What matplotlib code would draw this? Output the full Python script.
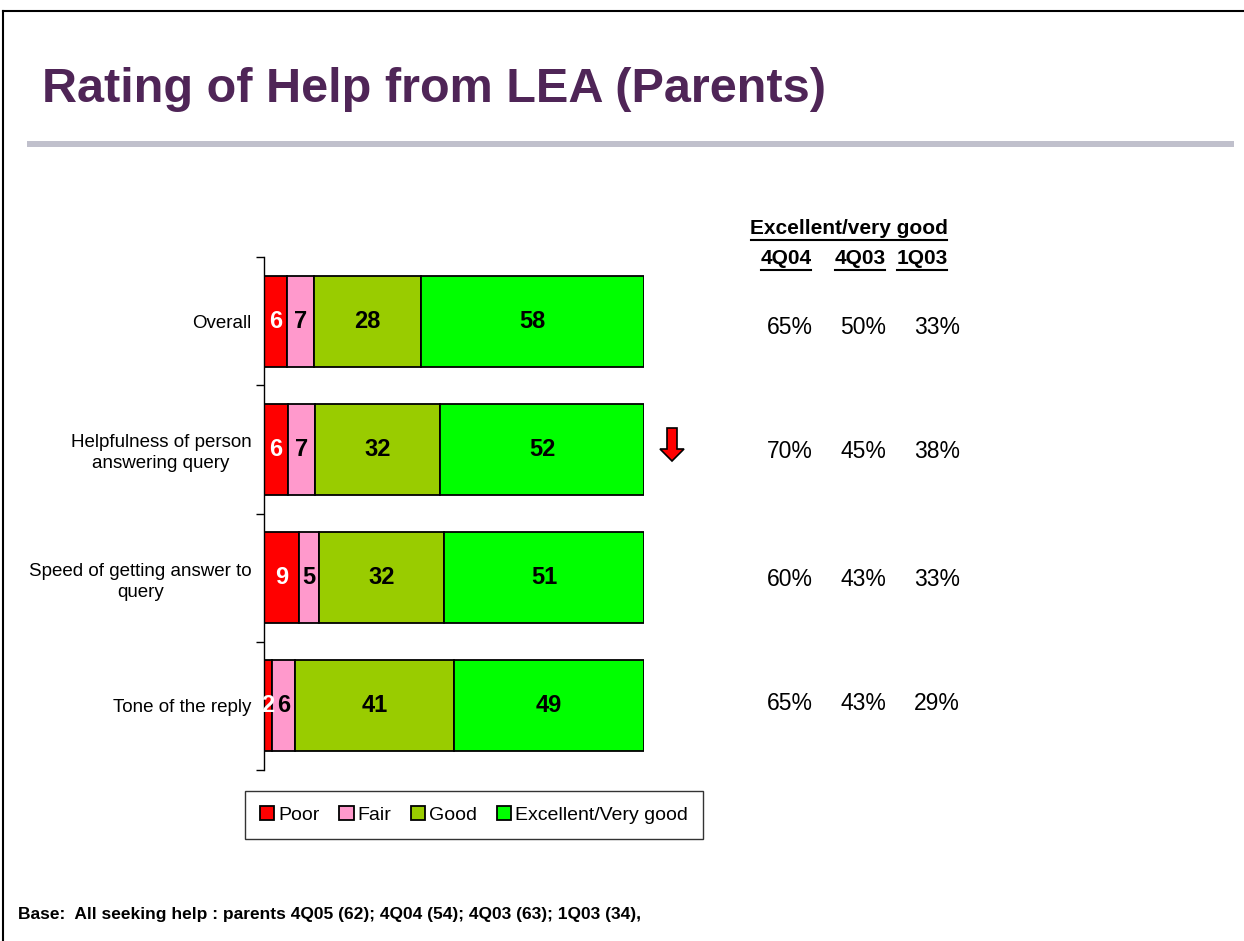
import matplotlib
matplotlib.use("Agg")
import matplotlib.pyplot as plt
import numpy as np
from matplotlib.lines import Line2D
from matplotlib.patches import FancyArrow, Rectangle

plt.rcParams['font.family'] = ['Liberation Sans', 'DejaVu Sans']

categories = ["Overall", "Helpfulness of person\nanswering query",
              "Speed of getting answer to\nquery", "Tone of the reply"]
series_names = ["Poor", "Fair", "Good", "Excellent/Very good"]
poor = [6, 6, 9, 2]
fair = [7, 7, 5, 6]
good = [28, 32, 32, 41]
excellent = [58, 52, 51, 49]
colors = ["#FF0000", "#FF99CC", "#99CC00", "#00FF00"]
label_colors = ["white", "black", "black", "black"]

periods = ["4Q04", "4Q03", "1Q03"]
prev_4q04 = ["65%", "70%", "60%", "65%"]
prev_4q03 = ["50%", "45%", "43%", "43%"]
prev_1q03 = ["33%", "38%", "33%", "29%"]

W, H = 1244, 941
fig = plt.figure(figsize=(W / 100, H / 100), dpi=100)

def fx(px):
    return px / W

def fy(py):
    return 1 - py / H

# Border and title
fig.add_artist(Line2D([fx(3), fx(1244)], [fy(11), fy(11)], color="black", lw=1.5))
fig.add_artist(Line2D([fx(3), fx(3)], [fy(11), fy(941)], color="black", lw=1.5))
fig.text(fx(42), fy(90), "Rating of Help from LEA (Parents)", fontsize=35,
         fontweight="bold", color="#4F2557", va="center", ha="left")
fig.add_artist(Rectangle((fx(27), fy(147)), fx(1234) - fx(27), fy(141) - fy(147),
                         transform=fig.transFigure, color="#C0C0CC", lw=0))

# Axes
ax = fig.add_axes([fx(264), fy(770), fx(644) - fx(264), fy(257) - fy(770)])
data = np.array([poor, fair, good, excellent], dtype=float)
totals = data.sum(axis=0)
shares = data / totals * 100
y = np.arange(len(categories))
left = np.zeros(len(categories))
for i, name in enumerate(series_names):
    ax.barh(y, shares[i], left=left, height=0.71, color=colors[i],
            edgecolor="black", linewidth=1.3, label=name)
    for j in range(len(categories)):
        ax.text(left[j] + shares[i][j] / 2, y[j], str(int(data[i][j])),
                ha="center", va="center", fontsize=17, fontweight="bold",
                color=label_colors[i])
    left += shares[i]

ax.set_xlim(0, 100)
ax.set_ylim(len(categories) - 0.5, -0.5)
ax.set_yticks(np.arange(-0.5, len(categories), 1.0))
ax.set_yticklabels([])
ax.set_yticks(y, minor=True)
ax.set_yticklabels(categories, minor=True, fontsize=13.5, ha="right",
                   multialignment="center", linespacing=1.3)
ax.tick_params(axis="y", which="minor", length=0, pad=9)
ax.tick_params(axis="y", which="major", length=6, direction="out", width=1)
ax.set_xticks([])
for s in ["top", "right", "bottom"]:
    ax.spines[s].set_visible(False)
ax.spines["left"].set_linewidth(1)
ax.patch.set_alpha(0)

# Legend
leg = fig.legend(loc="center", bbox_to_anchor=(fx(474), fy(815)), ncol=4,
                 fontsize=14, frameon=True, fancybox=False, edgecolor="black",
                 handlelength=0.75, handleheight=0.75, handletextpad=0.2,
                 columnspacing=1.0, borderpad=0.75)
leg.get_frame().set_linewidth(1)

# Down arrow
fig.add_artist(FancyArrow(fx(672), fy(428), 0, fy(461) - fy(428), width=fx(10) - fx(0),
                          head_width=fx(24), head_length=fy(0) - fy(12),
                          length_includes_head=True, transform=fig.transFigure,
                          facecolor="#FF0000", edgecolor="black", lw=1.2))

# Right table
fig.text(fx(849), fy(229), "Excellent/very good", ha="center", va="center",
         fontsize=15, fontweight="bold")
fig.add_artist(Line2D([fx(751), fx(947)], [fy(240), fy(240)], color="black", lw=1.5))
col_x = [786, 860, 922]
col_w = [50, 50, 50]
for px, pw, p in zip(col_x, col_w, periods):
    fig.text(fx(px), fy(259), p, ha="center", va="center", fontsize=15, fontweight="bold")
    fig.add_artist(Line2D([fx(px - pw / 2), fx(px + pw / 2)], [fy(270), fy(270)],
                          color="black", lw=1.5))
val_x = [790, 863, 937]
row_y = [327, 452, 579, 704]
for vals, px in zip([prev_4q04, prev_4q03, prev_1q03], val_x):
    for v, py in zip(vals, row_y):
        fig.text(fx(px), fy(py), v, ha="center", va="center", fontsize=16.5)

fig.text(fx(18), fy(914), "Base:  All seeking help : parents 4Q05 (62); 4Q04 (54); 4Q03 (63); 1Q03 (34),",
         ha="left", va="center", fontsize=12.5, fontweight="bold")

fig.savefig("out.png", dpi=100)
